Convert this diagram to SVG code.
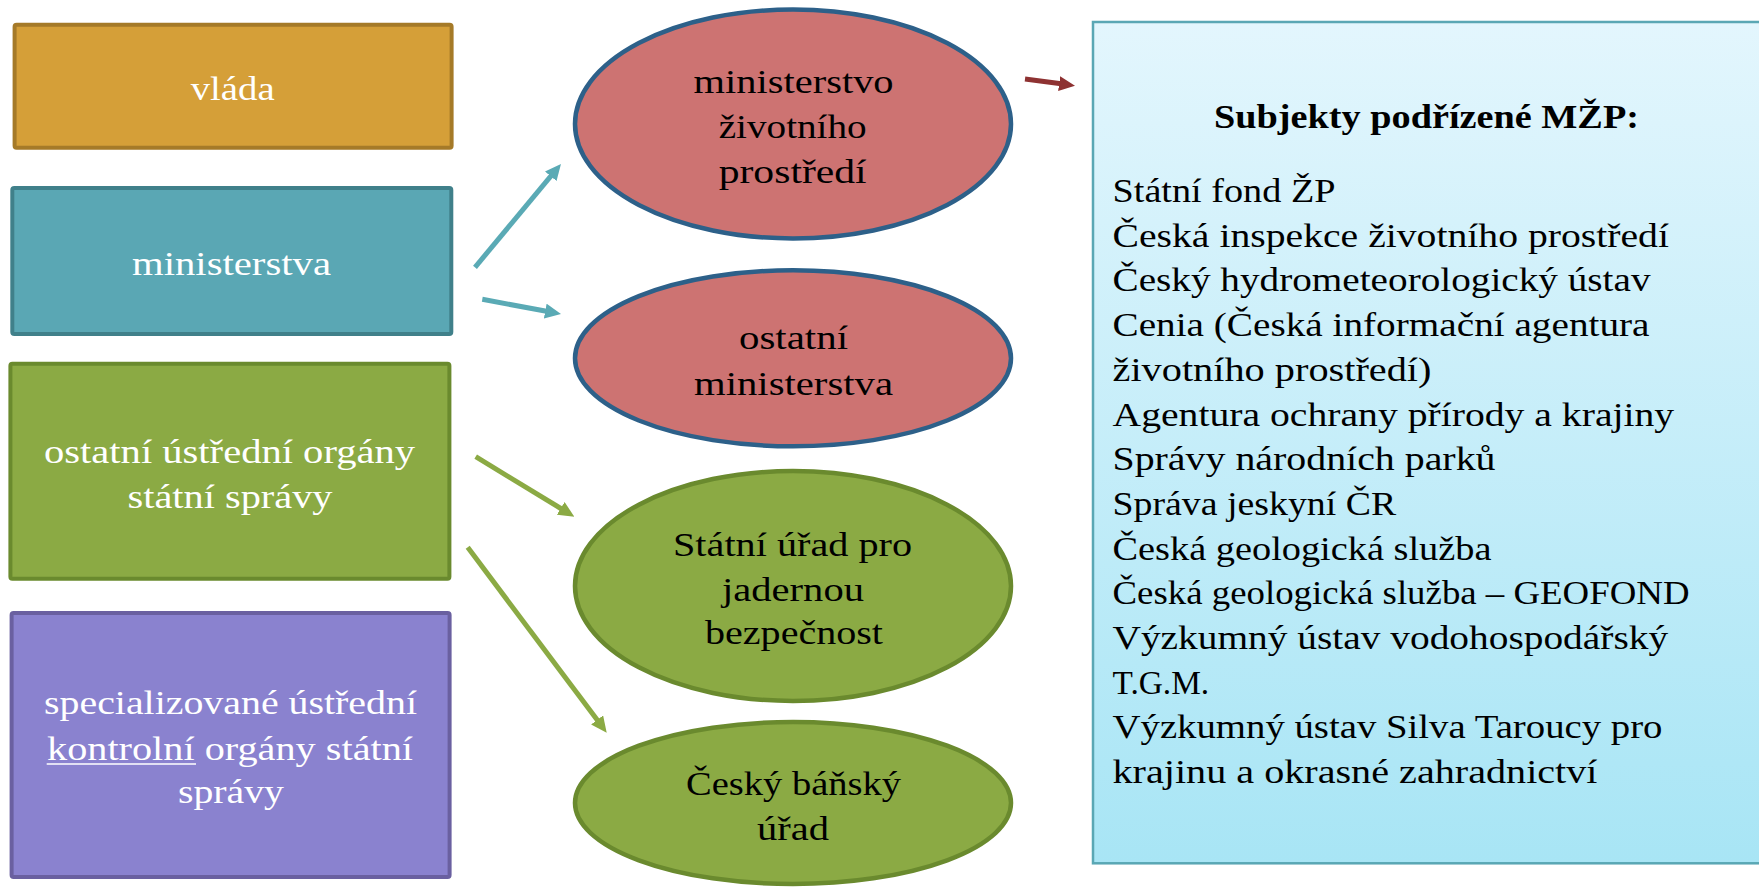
<svg xmlns="http://www.w3.org/2000/svg" width="1759" height="887" viewBox="0 0 1759 887">
<style>
text{font-family:"Liberation Serif","Times New Roman",serif;font-size:34px}
.w{fill:#ffffff;text-anchor:middle}
.b{fill:#000000;text-anchor:middle}
.l{fill:#000000;font-size:34px}
.box{stroke-width:4}
.ell{stroke-width:4.5}
.con{fill:none;stroke-width:5}
</style>
<defs>
<linearGradient id="gb" x1="0" y1="0" x2="0" y2="1">
<stop offset="0" stop-color="#E3F6FD"/>
<stop offset="1" stop-color="#A8E5F5"/>
</linearGradient>
<marker id="aT" markerUnits="userSpaceOnUse" markerWidth="16" markerHeight="15" refX="4" refY="7.5" orient="auto"><path d="M0,0 L16,7.5 L0,15 z" fill="#5AAAB5"/></marker>
<marker id="aG" markerUnits="userSpaceOnUse" markerWidth="16" markerHeight="15" refX="4" refY="7.5" orient="auto"><path d="M0,0 L16,7.5 L0,15 z" fill="#8BAA44"/></marker>
<marker id="aR" markerUnits="userSpaceOnUse" markerWidth="16" markerHeight="15" refX="4" refY="7.5" orient="auto"><path d="M0,0 L16,7.5 L0,15 z" fill="#8E3232"/></marker>
</defs>
<rect width="1759" height="887" fill="#ffffff"/>

<g id="vlada">
<rect class="box" x="14.6" y="24.7" width="437" height="123" rx="2" fill="#D59F38" stroke="#A57A28"/>
<text class="w" x="232.7" y="100" textLength="84" lengthAdjust="spacingAndGlyphs">vláda</text>
</g>
<g id="ministerstva">
<rect class="box" x="12.3" y="188" width="439" height="146" rx="2" fill="#5AA7B4" stroke="#40808A"/>
<text class="w" x="231.5" y="275" textLength="199" lengthAdjust="spacingAndGlyphs">ministerstva</text>
</g>
<g id="ostatni-organy">
<rect class="box" x="10.4" y="363.7" width="439" height="215" rx="2" fill="#8BAA44" stroke="#6A8A2E"/>
<text class="w" x="229.5" y="463" textLength="371" lengthAdjust="spacingAndGlyphs">ostatní ústřední orgány</text>
<text class="w" x="230" y="508" textLength="205" lengthAdjust="spacingAndGlyphs">státní správy</text>
</g>
<g id="kontrolni-organy">
<rect class="box" x="11.6" y="613" width="438" height="264" rx="2" fill="#8A82CF" stroke="#6A60A0"/>
<text class="w" x="230.5" y="714" textLength="373" lengthAdjust="spacingAndGlyphs">specializované ústřední</text>
<text class="w" x="230" y="760" textLength="366" lengthAdjust="spacingAndGlyphs">kontrolní orgány státní</text>
<line x1="46.7" y1="764" x2="196" y2="764" stroke="#ffffff" stroke-width="1.6"/>
<text class="w" x="231" y="803" textLength="106" lengthAdjust="spacingAndGlyphs">správy</text>
</g>

<g id="mzp">
<ellipse class="ell" cx="793" cy="124" rx="218" ry="114.5" fill="#CD7372" stroke="#2D6089"/>
<text class="b" x="793.6" y="93.3" textLength="200" lengthAdjust="spacingAndGlyphs">ministerstvo</text>
<text class="b" x="792.7" y="138.3" textLength="148" lengthAdjust="spacingAndGlyphs">životního</text>
<text class="b" x="792.7" y="182.7" textLength="148" lengthAdjust="spacingAndGlyphs">prostředí</text>
</g>
<g id="ostatni-ministerstva">
<ellipse class="ell" cx="793" cy="358.3" rx="218" ry="88" fill="#CD7372" stroke="#2D6089"/>
<text class="b" x="793.5" y="349.3" textLength="109" lengthAdjust="spacingAndGlyphs">ostatní</text>
<text class="b" x="793.5" y="395" textLength="199" lengthAdjust="spacingAndGlyphs">ministerstva</text>
</g>
<g id="sujb">
<ellipse class="ell" cx="793" cy="586" rx="218" ry="115" fill="#8BAA44" stroke="#6A8A2E"/>
<text class="b" x="792.5" y="556" textLength="239" lengthAdjust="spacingAndGlyphs">Státní úřad pro</text>
<text class="b" x="793" y="601" textLength="142" lengthAdjust="spacingAndGlyphs">jadernou</text>
<text class="b" x="794" y="644" textLength="178" lengthAdjust="spacingAndGlyphs">bezpečnost</text>
</g>
<g id="cbu">
<ellipse class="ell" cx="793" cy="803" rx="218" ry="81" fill="#8BAA44" stroke="#6A8A2E"/>
<text class="b" x="793.5" y="795" textLength="215" lengthAdjust="spacingAndGlyphs">Český báňský</text>
<text class="b" x="793" y="840" textLength="72" lengthAdjust="spacingAndGlyphs">úřad</text>
</g>

<g id="subjekty">
<rect x="1093" y="22" width="680" height="841.3" fill="url(#gb)" stroke="#5AA7B4" stroke-width="2.5"/>
<text class="b" x="1426.5" y="128.3" font-weight="bold" font-size="34" textLength="425" lengthAdjust="spacingAndGlyphs">Subjekty podřízené MŽP:</text>
<text class="l" x="1112.5" y="202" textLength="223" lengthAdjust="spacingAndGlyphs">Státní fond ŽP</text>
<text class="l" x="1112.5" y="246.7" textLength="556.5" lengthAdjust="spacingAndGlyphs">Česká inspekce životního prostředí</text>
<text class="l" x="1112.5" y="291.4" textLength="538" lengthAdjust="spacingAndGlyphs">Český hydrometeorologický ústav</text>
<text class="l" x="1112.5" y="336.1" textLength="537" lengthAdjust="spacingAndGlyphs">Cenia (Česká informační agentura</text>
<text class="l" x="1112.5" y="380.8" textLength="319" lengthAdjust="spacingAndGlyphs">životního prostředí)</text>
<text class="l" x="1112.5" y="425.5" textLength="561.7" lengthAdjust="spacingAndGlyphs">Agentura ochrany přírody a krajiny</text>
<text class="l" x="1112.5" y="470.2" textLength="383" lengthAdjust="spacingAndGlyphs">Správy národních parků</text>
<text class="l" x="1112.5" y="514.9" textLength="283.7" lengthAdjust="spacingAndGlyphs">Správa jeskyní ČR</text>
<text class="l" x="1112.5" y="559.6" textLength="379" lengthAdjust="spacingAndGlyphs">Česká geologická služba</text>
<text class="l" x="1112.5" y="604.3" textLength="577" lengthAdjust="spacingAndGlyphs">Česká geologická služba – GEOFOND</text>
<text class="l" x="1112.5" y="649" textLength="555.6" lengthAdjust="spacingAndGlyphs">Výzkumný ústav vodohospodářský</text>
<text class="l" x="1112.5" y="693.7" textLength="96.6" lengthAdjust="spacingAndGlyphs">T.G.M.</text>
<text class="l" x="1112.5" y="738.4" textLength="550" lengthAdjust="spacingAndGlyphs">Výzkumný ústav Silva Taroucy pro</text>
<text class="l" x="1112.5" y="783.1" textLength="485" lengthAdjust="spacingAndGlyphs">krajinu a okrasné zahradnictví</text>
</g>

<g id="connectors">
<line class="con" x1="475" y1="267.3" x2="553.3" y2="173.2" stroke="#5AAAB5" marker-end="url(#aT)"/>
<line class="con" x1="482.3" y1="299.3" x2="549.2" y2="311.8" stroke="#5AAAB5" marker-end="url(#aT)"/>
<line class="con" x1="475.7" y1="456.7" x2="564.1" y2="510.5" stroke="#8BAA44" marker-end="url(#aG)"/>
<line class="con" x1="467.7" y1="547.3" x2="599.5" y2="723.1" stroke="#8BAA44" marker-end="url(#aG)"/>
<line class="con" x1="1025" y1="79" x2="1063.1" y2="84.1" stroke="#8E3232" marker-end="url(#aR)"/>
</g>
</svg>
